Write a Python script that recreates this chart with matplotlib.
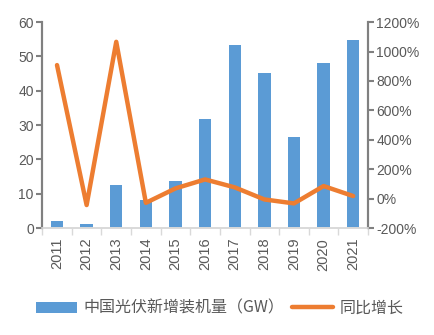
import numpy as np
import matplotlib.pyplot as plt
from matplotlib.ticker import FuncFormatter

plt.rcParams['font.family'] = ['Liberation Sans', 'Noto Sans CJK SC']

years = ['2011', '2012', '2013', '2014', '2015', '2016', '2017', '2018', '2019', '2020', '2021']
capacity = [2.0, 1.2, 12.5, 8.2, 13.7, 31.7, 53.3, 45.1, 26.5, 48.1, 54.9]
growth = [908, -43, 1066, -28, 70, 131, 77, -5, -32, 86, 18]

bar_color = '#5B9BD5'
line_color = '#ED7D31'
text_color = '#595959'

fig = plt.figure(figsize=(4.35, 3.35), dpi=100)
ax = fig.add_axes([0.097, 0.319, 0.749, 0.615])
ax2 = ax.twinx()

x = np.arange(len(years))
bars = ax.bar(x, capacity, width=0.42, color=bar_color, zorder=2)
line, = ax2.plot(x, growth, color=line_color, lw=3.2, solid_capstyle='round', zorder=3)

ax.set_xlim(-0.5, len(years) - 0.5)
ax.set_ylim(0, 60)
ax.set_yticks(range(0, 61, 10))
ax2.set_ylim(-200, 1200)
ax2.set_yticks(range(-200, 1201, 200))
ax2.yaxis.set_major_formatter(FuncFormatter(lambda v, p: f'{int(v)}%'))

ax.set_xticks(x)
ax.set_xticklabels(years, rotation=90)
ax.set_xticks(np.arange(-0.5, len(years)), minor=True)
ax.tick_params(axis='x', which='major', length=0, pad=7, labelsize=10.5, labelcolor=text_color)
ax.tick_params(axis='x', which='minor', length=5, width=1, color='#D9D9D9')
ax.tick_params(axis='y', length=4, width=1.5, color='#808080', labelsize=10, labelcolor=text_color, pad=2)
ax2.tick_params(axis='y', length=4, width=1.5, color='#808080', labelsize=10, labelcolor=text_color, pad=2)

for a in (ax, ax2):
    a.spines['top'].set_visible(False)
    a.spines['left'].set_color('#808080')
    a.spines['left'].set_linewidth(1.5)
    a.spines['right'].set_color('#808080')
    a.spines['right'].set_linewidth(1.5)
    a.spines['bottom'].set_color('#D9D9D9')
    a.spines['bottom'].set_linewidth(1.2)

# line drawn above the bars
ax.set_zorder(1)
ax2.set_zorder(2)
ax.patch.set_visible(False)

fig.legend([bars, line], ['中国光伏新增装机量（GW）', '同比增长'], loc='center',
           bbox_to_anchor=(0.505, 0.08), ncol=2, frameon=False,
           prop={'family': ['Noto Sans CJK SC', 'Liberation Sans'], 'size': 11.5},
           labelcolor=text_color, handlelength=2.6, handleheight=0.7, columnspacing=0.45,
           handletextpad=0.4)

fig.savefig('out.png', dpi=100)
